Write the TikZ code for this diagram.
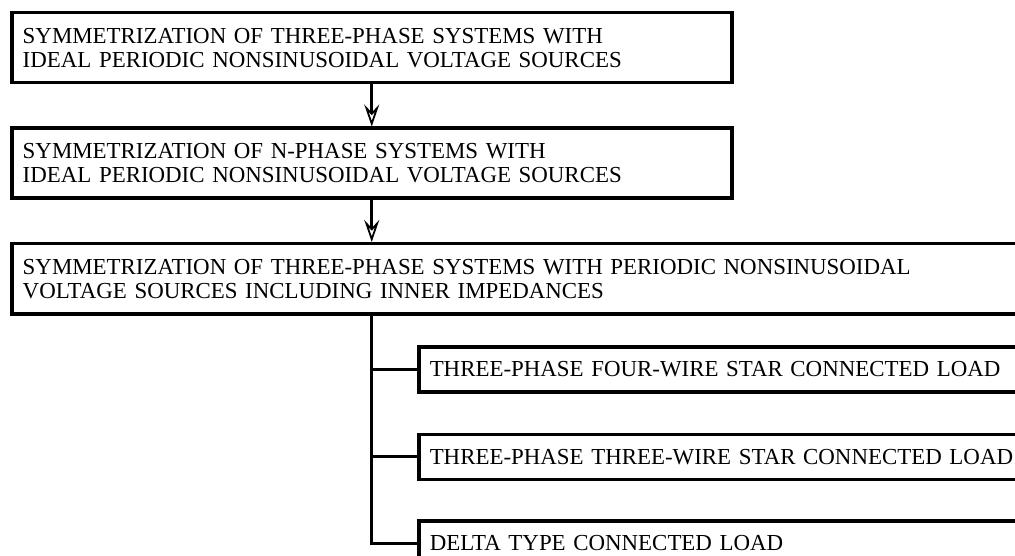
\documentclass[tikz,border=0pt]{standalone}
\usepackage{fontspec}
\setmainfont{Liberation Serif}
\usetikzlibrary{arrows.meta, positioning}
\tikzset{
    block/.style = {draw, rectangle, line width=3.5pt, align=left, inner xsep=11pt, inner ysep=0pt, minimum height=70pt, font=\fontsize{22.9}{24}\selectfont, anchor=north west},
    bigblock/.style = {block, text width=698pt},
    wideblock/.style = {block, text width=1008pt},
    loadblock/.style = {block, text width=601pt, minimum height=45pt},
    flow/.style = {line width=3pt, -{Stealth[open, length=22pt, width=15pt, inset=8pt, line width=1.8pt]}},
    tree/.style = {line width=3pt}
}

\begin{document}
\begin{tikzpicture}[x=1pt, y=-1pt, node distance=42pt]
  \useasboundingbox (0,0) rectangle (1015,556);
  \clip (0,0) rectangle (1015,556);

  \node[bigblock] (sym3) at (10,11) {SYMMETRIZATION OF THREE-PHASE SYSTEMS WITH\\IDEAL PERIODIC NONSINUSOIDAL VOLTAGE SOURCES};
  \node[bigblock, below=of sym3.south west, anchor=north west] (symN) {SYMMETRIZATION OF N-PHASE SYSTEMS WITH\\IDEAL PERIODIC NONSINUSOIDAL VOLTAGE SOURCES};
  \node[wideblock, below=of symN.south west, anchor=north west] (inner) {SYMMETRIZATION OF THREE-PHASE SYSTEMS WITH PERIODIC NONSINUSOIDAL\\VOLTAGE SOURCES INCLUDING INNER IMPEDANCES};

  % load types
  \node[loadblock] (load1) at (417,345) {THREE-PHASE FOUR-WIRE STAR CONNECTED LOAD};
  \node[loadblock, below=39pt of load1.south west, anchor=north west] (load2) {THREE-PHASE THREE-WIRE STAR CONNECTED LOAD};
  \node[loadblock, below=38pt of load2.south west, anchor=north west] (load3) {DELTA TYPE CONNECTED LOAD};

  \draw[flow] (sym3) -- (symN);
  \draw[flow] (symN) -- (symN |- inner.north);

  \draw[tree] (inner.south -| symN.south) |- (load3.west);
  \foreach \n in {load1, load2}
    \draw[tree] (\n.west -| symN.south) -- (\n.west);
\end{tikzpicture}
\end{document}
